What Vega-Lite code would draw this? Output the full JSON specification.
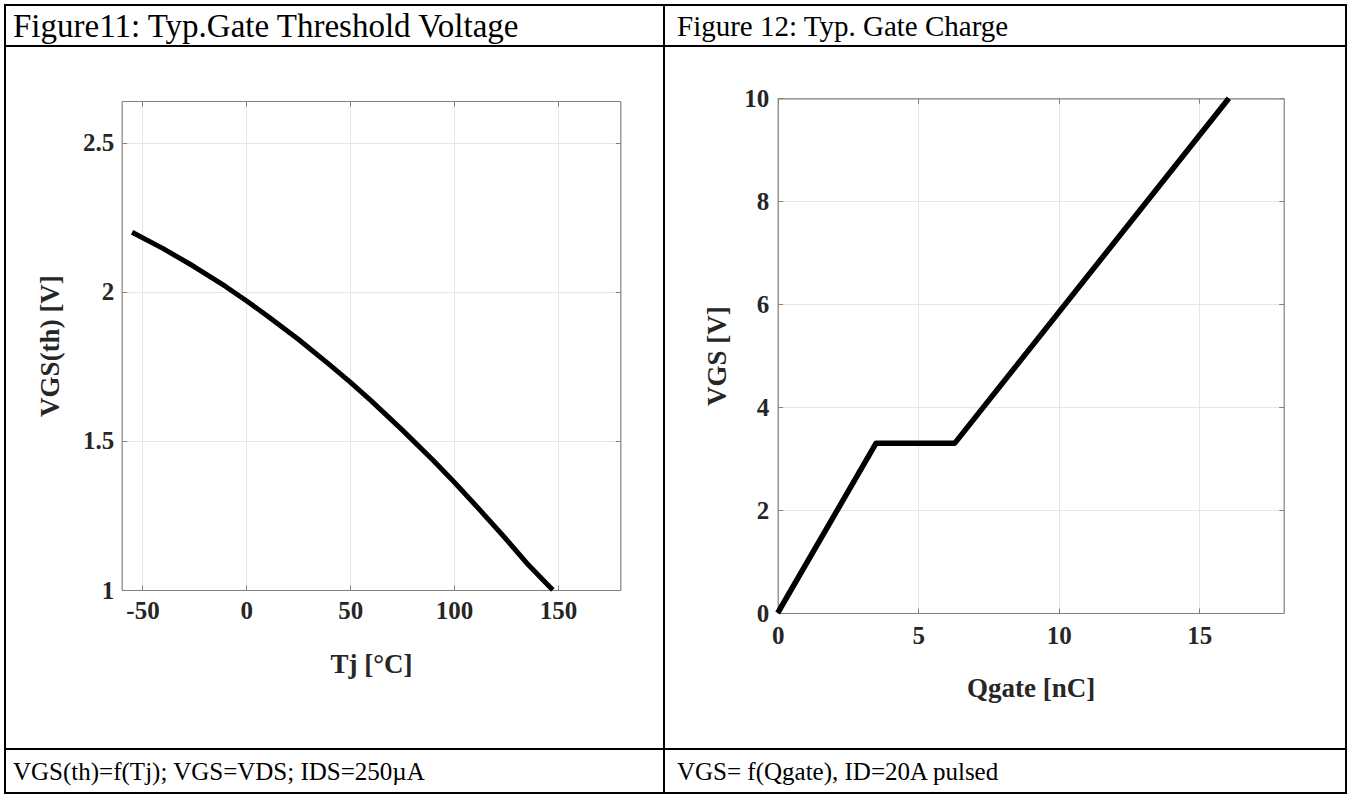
{
  "$schema": "https://vega.github.io/schema/vega-lite/v6.json",
  "padding": {"left": 4, "top": 4, "right": 4, "bottom": 4},
  "background": "white",
  "bounds": "flush",
  "spacing": 0,
  "columns": 2,
  "config": {
    "view": {"stroke": "black", "strokeWidth": 2},
    "font": "Liberation Serif",
    "axis": {
      "labelFont": "Liberation Serif",
      "labelFontWeight": "bold",
      "labelFontSize": 25,
      "labelColor": "#262626",
      "labelFlush": false,
      "labelOverlap": false,
      "labelExpr": "'' + datum.value",
      "titleFont": "Liberation Serif",
      "titleFontWeight": "bold",
      "titleFontSize": 27,
      "titleColor": "#262626",
      "domainColor": "#808080",
      "domainWidth": 1.2,
      "tickColor": "#808080",
      "tickSize": -5,
      "tickWidth": 1,
      "gridColor": "#e6e6e6",
      "gridWidth": 1
    }
  },
  "datasets": {
    "vgsth": [
      {"Tj": -55, "V": 2.2},
      {"Tj": -40, "V": 2.145},
      {"Tj": -25, "V": 2.084},
      {"Tj": -10, "V": 2.018},
      {"Tj": 0, "V": 1.97},
      {"Tj": 10, "V": 1.92},
      {"Tj": 25, "V": 1.841},
      {"Tj": 40, "V": 1.756},
      {"Tj": 50, "V": 1.697},
      {"Tj": 60, "V": 1.635},
      {"Tj": 75, "V": 1.537},
      {"Tj": 90, "V": 1.434},
      {"Tj": 100, "V": 1.362},
      {"Tj": 110, "V": 1.287},
      {"Tj": 125, "V": 1.171},
      {"Tj": 135, "V": 1.09},
      {"Tj": 147.5, "V": 1.0}
    ],
    "gate": [
      {"Q": 0, "VGS": 0},
      {"Q": 3.5, "VGS": 3.3},
      {"Q": 6.3, "VGS": 3.3},
      {"Q": 16.05, "VGS": 10}
    ]
  },
  "concat": [
    {
      "width": 659,
      "height": 41,
      "data": {"values": [{"label": "Figure11: Typ.Gate Threshold Voltage"}]},
      "mark": {"type": "text", "align": "left", "baseline": "middle", "dx": 8, "dy": 1, "font": "Liberation Serif", "fontSize": 33, "color": "black"},
      "encoding": {
        "text": {"field": "label"},
        "x": {"datum": 0, "type": "quantitative", "scale": {"domain": [0, 1]}, "axis": null}
      }
    },
    {
      "width": 682,
      "height": 41,
      "data": {"values": [{"label": "Figure 12: Typ. Gate Charge"}]},
      "mark": {"type": "text", "align": "left", "baseline": "middle", "dx": 13, "dy": 1, "font": "Liberation Serif", "fontSize": 29, "color": "black"},
      "encoding": {
        "text": {"field": "label"},
        "x": {"datum": 0, "type": "quantitative", "scale": {"domain": [0, 1]}, "axis": null}
      }
    },
    {
      "width": 659,
      "height": 703,
      "data": {"name": "vgsth"},
      "layer": [
        {
          "mark": {"type": "line", "color": "black", "strokeWidth": 5, "strokeJoin": "round"},
          "encoding": {
            "x": {
              "field": "Tj", "type": "quantitative",
              "scale": {"domain": [-60, 180], "range": [116.7, 615.3], "nice": false, "zero": false},
              "axis": {"orient": "bottom", "offset": -159, "values": [-50, 0, 50, 100, 150], "title": "Tj [°C]", "grid": false, "labelPadding": 13, "titlePadding": 28}
            },
            "y": {
              "field": "V", "type": "quantitative",
              "scale": {"domain": [1, 2.64], "range": [544, 55], "nice": false, "zero": false},
              "axis": {"orient": "left", "offset": -116.7, "values": [1, 1.5, 2, 2.5], "title": "VGS(th) [V]", "grid": true, "labelPadding": 13, "titlePadding": 18}
            }
          }
        },
        {
          "mark": {"type": "line", "opacity": 0},
          "encoding": {
            "x": {
              "field": "Tj", "type": "quantitative",
              "scale": {"domain": [-60, 180], "range": [116.7, 615.3], "nice": false, "zero": false},
              "axis": {"orient": "top", "offset": -55, "values": [-50, 0, 50, 100, 150], "title": null, "labels": false, "grid": true}
            },
            "y": {
              "field": "V", "type": "quantitative",
              "scale": {"domain": [1, 2.64], "range": [544, 55], "nice": false, "zero": false},
              "axis": {"orient": "right", "offset": -43.7, "values": [1, 1.5, 2, 2.5], "title": null, "labels": false, "grid": false}
            }
          }
        }
      ],
      "resolve": {"axis": {"x": "independent", "y": "independent"}}
    },
    {
      "width": 682,
      "height": 703,
      "data": {"name": "gate"},
      "layer": [
        {
          "mark": {"type": "line", "color": "black", "strokeWidth": 5.5, "strokeJoin": "round"},
          "encoding": {
            "x": {
              "field": "Q", "type": "quantitative",
              "scale": {"domain": [0, 18], "range": [113.7, 619.7], "nice": false, "zero": false},
              "axis": {"orient": "bottom", "offset": -136, "values": [0, 5, 10, 15], "title": "Qgate [nC]", "grid": false, "labelPadding": 15, "titlePadding": 27}
            },
            "y": {
              "field": "VGS", "type": "quantitative",
              "scale": {"domain": [0, 10], "range": [567, 52.3], "nice": false, "zero": false},
              "axis": {"orient": "left", "offset": -113.7, "values": [0, 2, 4, 6, 8, 10], "title": "VGS [V]", "grid": true, "labelPadding": 14, "titlePadding": 12}
            }
          }
        },
        {
          "mark": {"type": "line", "opacity": 0},
          "encoding": {
            "x": {
              "field": "Q", "type": "quantitative",
              "scale": {"domain": [0, 18], "range": [113.7, 619.7], "nice": false, "zero": false},
              "axis": {"orient": "top", "offset": -52.3, "values": [0, 5, 10, 15], "title": null, "labels": false, "grid": true}
            },
            "y": {
              "field": "VGS", "type": "quantitative",
              "scale": {"domain": [0, 10], "range": [567, 52.3], "nice": false, "zero": false},
              "axis": {"orient": "right", "offset": -62.3, "values": [0, 2, 4, 6, 8, 10], "title": null, "labels": false, "grid": false}
            }
          }
        }
      ],
      "resolve": {"axis": {"x": "independent", "y": "independent"}}
    },
    {
      "width": 659,
      "height": 44,
      "data": {"values": [{"label": "VGS(th)=f(Tj); VGS=VDS; IDS=250µA"}]},
      "mark": {"type": "text", "align": "left", "baseline": "middle", "dx": 8, "dy": 1, "font": "Liberation Serif", "fontSize": 25, "color": "black"},
      "encoding": {
        "text": {"field": "label"},
        "x": {"datum": 0, "type": "quantitative", "scale": {"domain": [0, 1]}, "axis": null}
      }
    },
    {
      "width": 682,
      "height": 44,
      "data": {"values": [{"label": "VGS= f(Qgate), ID=20A pulsed"}]},
      "mark": {"type": "text", "align": "left", "baseline": "middle", "dx": 13, "dy": 1, "font": "Liberation Serif", "fontSize": 25, "color": "black"},
      "encoding": {
        "text": {"field": "label"},
        "x": {"datum": 0, "type": "quantitative", "scale": {"domain": [0, 1]}, "axis": null}
      }
    }
  ]
}
